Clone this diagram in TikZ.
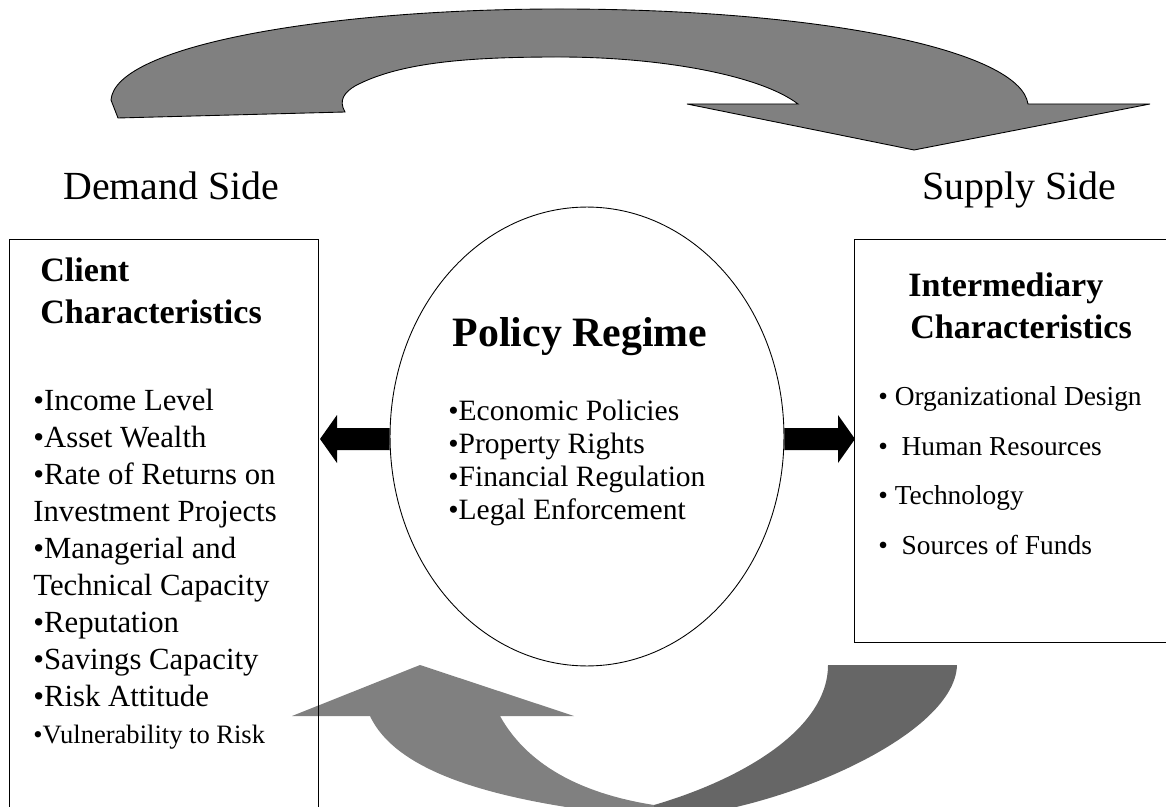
\documentclass[tikz,border=0pt]{standalone}
\usepackage{fontspec}
\setmainfont{Liberation Serif}
\usetikzlibrary{shapes.geometric}

\definecolor{shaftgray}{HTML}{808080}
\definecolor{darkgray}{HTML}{666666}

\tikzset{
	sidelabel/.style={anchor=base west,inner sep=0pt,font=\fontsize{22.7}{27}\selectfont},
	boxhead/.style={anchor=base west,inner sep=0pt,font=\fontsize{19.4}{23}\selectfont\bfseries},
	clientitem/.style={anchor=base west,inner sep=0pt,font=\fontsize{17.5}{21}\selectfont},
	policyitem/.style={anchor=base west,inner sep=0pt,font=\fontsize{16.8}{20}\selectfont},
	firmitem/.style={anchor=base west,inner sep=0pt,font=\fontsize{15.6}{19}\selectfont},
}

\begin{document}
\begin{tikzpicture}[x=0.02cm,y=-0.02cm]
		\useasboundingbox (0,0) rectangle (1166,807);
		\clip (0,0) rectangle (1166,807);

		% upper curved arrow
		\fill[color=shaftgray,draw=black,line width=0.5pt] (118,118) -- (345,112)
			.. controls (338,100) and (345,92) .. (355,86)
			.. controls (400,62) and (470,57) .. (559,57)
			.. controls (660,57) and (760,75) .. (798,104)
			-- (687,104) -- (914,150) -- (1150,104) -- (1028,104)
			.. controls (1020,50) and (820,9) .. (559,9)
			.. controls (330,9) and (115,45) .. (111,100) -- cycle;

		\node[sidelabel] (demand) at (63,200) {Demand Side};
		\node[sidelabel] (supply) at (922,200) {Supply Side};

		% lower curved arrow
		\fill[color=shaftgray] (292,716) -- (420,665) -- (574,716) -- (500,716)
			.. controls (530,770) and (590,795) .. (654,805) -- (654,818)
			.. controls (520,805) and (400,780) .. (370,716) -- cycle;
		\fill[color=darkgray] (828,665) -- (957,665)
			.. controls (955,740) and (760,818) .. (654,818) -- (654,805)
			.. controls (740,780) and (828,730) .. (828,665) -- cycle;

		% client box
		\draw[line width=0.5pt] (9,239) rectangle (318,850);
		\node[boxhead] (client) at (40,281.5) {Client};
		\node[boxhead] (clientchar) at (40,324) {Characteristics};
		\foreach \t [count=\i] in {•Income Level,•Asset Wealth,•Rate of Returns on,Investment Projects,•Managerial and,Technical Capacity,•Reputation,•Savings Capacity,•Risk Attitude} {
			\node[clientitem] (c\i) at (33,373+37.1*\i) {\t};
		}
		\node[clientitem,font=\fontsize{15.1}{18}\selectfont] (c10) at (33,743) {•Vulnerability to Risk};

		% intermediary box
		\draw[line width=0.5pt] (854,239) rectangle (1190,642);
		\node[boxhead] (interm) at (908,297) {Intermediary};
		\node[boxhead] (intermchar) at (910,338) {Characteristics};
		\node[firmitem] (f1) at (878,405) {•\ Organizational Design};
		\node[firmitem] (f2) at (878,455) {•\ \ Human Resources};
		\node[firmitem] (f3) at (878,504) {•\ Technology};
		\node[firmitem] (f4) at (878,554) {•\ \ Sources of Funds};

		% policy regime
		\node[draw,ellipse,line width=0.5pt,inner sep=0pt,minimum width=7.88cm,minimum height=9.18cm] (regime) at (587,436.5) {};
		\node[anchor=base,inner sep=0pt,font=\fontsize{23.8}{28}\selectfont\bfseries] (policy) at (580,347) {Policy Regime};
		\foreach \t [count=\i] in {•Economic Policies,•Property Rights,•Financial Regulation,•Legal Enforcement} {
			\node[policyitem] (p\i) at (448,387+33.2*\i) {\t};
		}

		% black arrows
		\fill (320,439) -- (337,415) -- (337,428) -- (regime.west |- 0,428) -- (regime.west |- 0,450) -- (337,450) -- (337,463) -- cycle;
		\fill (855,439) -- (838,415) -- (838,428) -- (regime.east |- 0,428) -- (regime.east |- 0,450) -- (838,450) -- (838,463) -- cycle;
	\end{tikzpicture}
\end{document}
